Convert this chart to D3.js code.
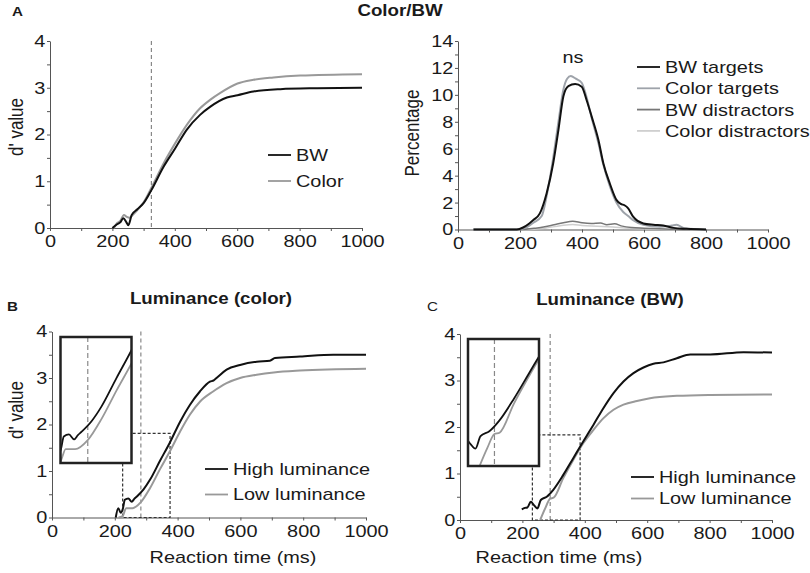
<!DOCTYPE html>
<html>
<head>
<meta charset="utf-8">
<script src="https://cdn.jsdelivr.net/npm/d3@7"></script>
<style>
  body { margin: 0; background: #fff; }
  svg { display: block; }
</style>
</head>
<body>
<svg id="chart" width="810" height="573"></svg>
<script>
// ---- data ----
// panel A (left): d' over reaction time
var aBW    = [[200,0],[215,0.08],[225,0.12],[235,0.21],[245,0.12],[251,0.06],[262,0.28],[280,0.4],[300,0.53],[325,0.81],[364,1.31],[401,1.7],[438,2.1],[481,2.42],[513,2.59],[567,2.79],[601,2.84],[652,2.92],[738,2.97],[856,2.99],[1000,3.0]];
var aColor = [[205,0],[214,0.1],[225,0.15],[237,0.28],[246,0.24],[255,0.22],[265,0.28],[285,0.42],[300,0.55],[325,0.86],[364,1.38],[401,1.81],[438,2.2],[481,2.56],[513,2.74],[546,2.89],[601,3.09],[652,3.17],[716,3.22],[802,3.26],[1000,3.29]];

// panel A (right): RT distributions (%)
var bwTargets   = [[50,0],[190,0],[210,0.15],[230,0.45],[243,0.7],[264,1.2],[286,2.7],[307,4.9],[324,7.4],[340,9.9],[356,10.65],[378,10.8],[399,10.6],[415,9.6],[431,8.4],[453,6.65],[469,4.9],[490,3.4],[511,2.2],[525,1.9],[537,1.8],[549,1.57],[565,0.95],[598,0.45],[630,0.35],[662,0.3],[695,0.12],[737,0.05],[800,0]];
var colTargets  = [[50,0],[190,0],[215,0.1],[243,0.5],[270,1.0],[286,2.5],[307,5.3],[324,8.0],[340,10.4],[352,11.2],[364,11.4],[380,11.2],[399,10.9],[415,9.8],[431,8.3],[453,6.4],[469,4.8],[490,3.2],[511,2.0],[533,1.3],[549,1.0],[565,0.7],[598,0.35],[650,0.2],[690,0.3],[705,0.35],[730,0.1],[770,0.03],[800,0]];
var bwDistr     = [[50,0],[200,0],[250,0.1],[280,0.2],[310,0.35],[340,0.5],[370,0.62],[400,0.5],[430,0.45],[460,0.48],[480,0.35],[505,0.42],[530,0.25],[560,0.15],[600,0.1],[650,0.05],[700,0.02],[750,0]];
var colDistr    = [[50,0],[220,0],[280,0.1],[330,0.28],[370,0.38],[400,0.3],[450,0.25],[500,0.18],[550,0.1],[600,0.05],[650,0.02],[700,0]];

// panel B: luminance (color)
var bHigh = [[203,0],[211,0.2],[219,0.1],[226,0.2],[232,0.38],[243,0.41],[254,0.34],[262,0.4],[270,0.45],[291,0.6],[312,0.81],[344,1.22],[376,1.62],[408,2.06],[439,2.42],[471,2.71],[503,2.92],[515,2.95],[524,3.0],[556,3.18],[599,3.28],[652,3.35],[694,3.37],[710,3.43],[790,3.46],[896,3.5],[1000,3.5]];
var bLow  = [[212,0],[225,0.03],[236,0.2],[256,0.2],[283,0.33],[312,0.63],[344,1.04],[376,1.43],[408,1.85],[439,2.21],[471,2.49],[513,2.71],[556,2.89],[599,3.0],[652,3.07],[706,3.12],[790,3.16],[1000,3.2]];

// panel C: luminance (BW)
var cHigh = [[198,0.23],[208,0.26],[216,0.27],[227,0.39],[237,0.32],[248,0.25],[259,0.43],[278,0.5],[299,0.65],[331,0.97],[363,1.33],[395,1.69],[428,2.05],[460,2.41],[492,2.73],[524,2.98],[556,3.16],[588,3.28],[620,3.36],[652,3.39],[695,3.48],[738,3.56],[802,3.56],[909,3.61],[1000,3.6]];
var cLow  = [[257,0],[273,0.25],[289,0.46],[300,0.48],[331,0.9],[363,1.29],[395,1.65],[428,1.94],[460,2.19],[492,2.37],[524,2.48],[567,2.56],[609,2.62],[695,2.67],[802,2.69],[1000,2.7]];

// minimal RT cut-offs and zoom windows [x0, x1, y1]
var cutA = 325, cutB = 283, cutC = 289;
var zoomB = [225, 376, 1.81];
var zoomC = [232, 385, 1.83];

// ticks
var xTicks   = [0,100,200,300,400,500,600,700,800,900,1000];
var xLabels  = [0,200,400,600,800,1000];
var dTicks   = [0,0.5,1,1.5,2,2.5,3,3.5,4];
var dLabels  = [0,1,2,3,4];
var pTicks   = [0,1,2,3,4,5,6,7,8,9,10,11,12,13,14];
var pLabels  = [0,2,4,6,8,10,12,14];

// ---- drawing ----
var SX = 1.17;   // the source figure is slightly stretched horizontally
var FONT = "'Liberation Sans', Arial, Helvetica, sans-serif";
var svg = d3.select("#chart").style("font-family", FONT);

function txt(sel, x, y, s, o) {
    o = o || {};
    return sel.append("text")
        .attr("transform", "translate(" + x + "," + y + ") scale(" + SX + ",1)" + (o.rot ? " rotate(-90)" : ""))
        .attr("text-anchor", o.anchor || "start")
        .attr("font-size", o.size || 17)
        .attr("font-weight", o.bold ? "bold" : null)
        .attr("dy", o.dy || null)
        .attr("fill", "#1a1a1a")
        .text(s);
}

function axes(g, x, y, yt, yl) {
    var gx = g.append("g")
        .attr("transform", "translate(0," + y(0) + ")")
        .call(d3.axisBottom(x).tickValues(xTicks)
            .tickFormat(function(d){ return xLabels.indexOf(d) > -1 ? d : ""; })
            .tickSize(3).tickPadding(4).tickSizeOuter(0));
    var gy = g.append("g")
        .attr("transform", "translate(" + x(0) + ",0)")
        .call(d3.axisLeft(y).tickValues(yt)
            .tickFormat(function(d){ return yl.indexOf(d) > -1 ? d : ""; })
            .tickSize(3).tickPadding(1).tickSizeOuter(0));
    [gx, gy].forEach(function(a){
        a.select(".domain").attr("stroke", "#555");
        a.selectAll(".tick line").attr("stroke", "#555");
        a.selectAll("text")
            .attr("font-size", 17)
            .attr("font-family", FONT)
            .attr("fill", "#1a1a1a")
            .attr("transform", "scale(" + SX + ",1)");
    });
}

function curve(g, x, y, data, color, w) {
    var line = d3.line()
        .x(function(d){ return x(d[0]); })
        .y(function(d){ return y(d[1]); })
        .curve(d3.curveMonotoneX);
    g.append("path").datum(data)
        .attr("d", line)
        .attr("fill", "none")
        .attr("stroke", color)
        .attr("stroke-width", w || 1.8)
        .attr("stroke-linejoin", "round");
}

function legend(g, x0, y0, dy, items) {
    items.forEach(function(it, i){
        var yy = y0 + i * dy;
        g.append("line")
            .attr("x1", x0).attr("x2", x0 + 23)
            .attr("y1", yy).attr("y2", yy)
            .attr("stroke", it[1]).attr("stroke-width", 1.8);
        txt(g, x0 + 28, yy, it[0], {dy: "0.35em"});
    });
}

var BLACK = "#111", GREY = "#999";

// ----- panel A left -----
(function(){
    var x = d3.scaleLinear().domain([0, 1000]).range([50, 362]);
    var y = d3.scaleLinear().domain([0, 4]).range([228, 41]);
    var g = svg.append("g");
    g.append("line")
        .attr("x1", x(cutA)).attr("x2", x(cutA))
        .attr("y1", y(4)).attr("y2", y(0))
        .attr("stroke", "#888").attr("stroke-dasharray", "4,3").attr("stroke-width", 1.2);
    axes(g, x, y, dTicks, dLabels);
    curve(g, x, y, aColor, GREY, 2);
    curve(g, x, y, aBW, BLACK, 2);
    legend(g, 268, 155, 26, [["BW", BLACK], ["Color", GREY]]);
    txt(g, 23, 127, "d' value", {rot: true, anchor: "middle"});
    txt(g, 12, 16, "A", {bold: true, size: 13});
})();

txt(svg, 400, 16, "Color/BW", {bold: true, size: 16, anchor: "middle"});

// ----- panel A right -----
(function(){
    var x = d3.scaleLinear().domain([0, 1000]).range([458, 768]);
    var y = d3.scaleLinear().domain([0, 14]).range([229.5, 41]);
    var g = svg.append("g");
    axes(g, x, y, pTicks, pLabels);
    curve(g, x, y, colDistr, "#cfcfcf", 1.5);
    curve(g, x, y, bwDistr, "#777", 1.5);
    curve(g, x, y, colTargets, "#9ea3aa", 2);
    curve(g, x, y, bwTargets, BLACK, 2);
    txt(g, 573, 63, "ns", {anchor: "middle"});
    legend(g, 637, 67, 21.3, [["BW targets", BLACK], ["Color targets", "#9ea3aa"], ["BW distractors", "#777"], ["Color distractors", "#cfcfcf"]]);
    txt(g, 419, 133, "Percentage", {rot: true, anchor: "middle"});
})();

// ----- panels B and C -----
function lumPanel(o) {
    var x = d3.scaleLinear().domain([0, 1000]).range(o.xr);
    var y = d3.scaleLinear().domain([0, 4]).range(o.yr);
    var g = svg.append("g");
    var z = o.zoom;

    g.append("line")
        .attr("x1", x(o.cut)).attr("x2", x(o.cut))
        .attr("y1", y(4)).attr("y2", y(0))
        .attr("stroke", "#888").attr("stroke-dasharray", "4,3").attr("stroke-width", 1.2);
    axes(g, x, y, dTicks, dLabels);
    g.append("rect")
        .attr("x", x(z[0])).attr("y", y(z[2]))
        .attr("width", x(z[1]) - x(z[0])).attr("height", y(0) - y(z[2]))
        .attr("fill", "none").attr("stroke", "#333")
        .attr("stroke-dasharray", "3,2").attr("stroke-width", 1.2);
    curve(g, x, y, o.low, GREY, 2);
    curve(g, x, y, o.high, BLACK, 2);

    // inset: zoom on the dashed window
    var ib = o.inset;   // [x, y, w, h]
    var ix = d3.scaleLinear().domain([z[0], z[1]]).range([ib[0], ib[0] + ib[2]]);
    var iy = d3.scaleLinear().domain([0, z[2]]).range([ib[1] + ib[3], ib[1]]);
    var clipId = "clip" + o.id;
    g.append("clipPath").attr("id", clipId).append("rect")
        .attr("x", ib[0]).attr("y", ib[1]).attr("width", ib[2]).attr("height", ib[3]);
    g.append("rect")
        .attr("x", ib[0]).attr("y", ib[1]).attr("width", ib[2]).attr("height", ib[3])
        .attr("fill", "#fff");
    var ig = g.append("g").attr("clip-path", "url(#" + clipId + ")");
    ig.append("line")
        .attr("x1", ix(o.cut)).attr("x2", ix(o.cut))
        .attr("y1", ib[1]).attr("y2", ib[1] + ib[3])
        .attr("stroke", "#888").attr("stroke-dasharray", "5,3").attr("stroke-width", 1.2);
    curve(ig, ix, iy, o.low, GREY, 1.8);
    curve(ig, ix, iy, o.high, BLACK, 1.8);
    g.append("rect")
        .attr("x", ib[0]).attr("y", ib[1]).attr("width", ib[2]).attr("height", ib[3])
        .attr("fill", "none").attr("stroke", "#222").attr("stroke-width", 2.5);

    legend(g, o.leg[0], o.leg[1], o.leg[2], [["High luminance", BLACK], ["Low luminance", GREY]]);
    txt(g, o.title[0], o.title[1], o.title[2], {bold: true, size: 16, anchor: "middle"});
    txt(g, o.letter[0], o.letter[1], o.letter[2], {bold: o.letter[3], size: 13});
    txt(g, o.xlab[0], o.xlab[1], "Reaction time (ms)", {anchor: "middle"});
    if (o.ylab) txt(g, o.ylab[0], o.ylab[1], "d' value", {rot: true, anchor: "middle"});
}

lumPanel({
    id: "B", xr: [52, 366], yr: [517.5, 331.5], cut: cutB, zoom: zoomB,
    high: bHigh, low: bLow, inset: [60.5, 337, 71, 126],
    leg: [205, 469, 25.5], title: [211, 304, "Luminance (color)"],
    letter: [7, 311, "B", true], xlab: [233, 563], ylab: [23, 410]
});

lumPanel({
    id: "C", xr: [460, 772], yr: [520, 334], cut: cutC, zoom: zoomC,
    high: cHigh, low: cLow, inset: [468, 339, 71, 127],
    leg: [631, 477, 21.5], title: [610, 305, "Luminance (BW)"],
    letter: [427, 311, "C", false], xlab: [559, 563]
});
</script>
</body>
</html>
